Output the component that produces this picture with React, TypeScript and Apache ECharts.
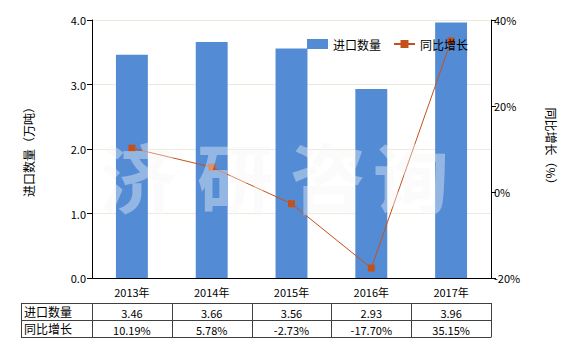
import React, { useEffect, useRef } from "react";
import * as echarts from "echarts";

const categories = ["2013年", "2014年", "2015年", "2016年", "2017年"];
const importQty = [3.46, 3.66, 3.56, 2.93, 3.96];
const yoyGrowth = [10.19, 5.78, -2.73, -17.7, 35.15];
const qtyLabels = ["3.46", "3.66", "3.56", "2.93", "3.96"];
const growthLabels = ["10.19%", "5.78%", "-2.73%", "-17.70%", "35.15%"];
const rowNames = ["进口数量", "同比增长"];
const watermarkChars = ["济", "研", "咨", "询"];

const FONT = "'Noto Sans CJK SC', 'Microsoft YaHei', sans-serif";
const GRID_LEFT = 92;
const GRID_RIGHT_X = 491;
const GRID_TOP = 20;
const GRID_BOTTOM_Y = 278;
const TABLE_LEFT = 21;
const TABLE_TOP = 303;
const ROW_H = 17;

export default function App() {
  const ref = useRef<HTMLDivElement>(null);
  useEffect(() => {
    const chart = echarts.init(ref.current!, null, { renderer: "svg" });
    const plotW = GRID_RIGHT_X - GRID_LEFT;
    const colW = plotW / categories.length;
    const border = "#404040";
    const graphics: any[] = [];
    const tableBottom = TABLE_TOP + ROW_H * rowNames.length;
    for (let r = 0; r <= rowNames.length; r++) {
      const y = TABLE_TOP + ROW_H * r + 0.5;
      graphics.push({ type: "line", shape: { x1: TABLE_LEFT, y1: y, x2: GRID_RIGHT_X, y2: y }, style: { stroke: border, lineWidth: 1 } });
    }
    const vxs = [TABLE_LEFT, GRID_LEFT];
    for (let i = 1; i <= categories.length; i++) vxs.push(GRID_LEFT + colW * i);
    vxs.forEach((x) => {
      graphics.push({ type: "line", shape: { x1: Math.round(x) + 0.5, y1: TABLE_TOP, x2: Math.round(x) + 0.5, y2: tableBottom + 0.5 }, style: { stroke: border, lineWidth: 1 } });
    });
    const rows = [qtyLabels, growthLabels];
    rowNames.forEach((name, r) => {
      const cy = TABLE_TOP + ROW_H * r + ROW_H / 2;
      graphics.push({ type: "text", x: TABLE_LEFT + 3, y: cy, style: { text: name, fill: "#000", font: `12px ${FONT}`, verticalAlign: "middle", align: "left" } });
      rows[r].forEach((t, i) => {
        graphics.push({ type: "text", x: GRID_LEFT + colW * (i + 0.5), y: cy + 1, style: { text: t, fill: "#000", font: `11px ${FONT}`, verticalAlign: "middle", align: "center" } });
      });
    });
    const wmCenters = [138, 235, 328, 411];
    watermarkChars.forEach((c, i) => {
      graphics.push({ type: "text", x: wmCenters[i], y: 175, z: 100, style: { text: c, fill: "rgba(246,246,246,0.4)", font: `bold 76px ${FONT}`, align: "center", verticalAlign: "middle" } });
    });

    chart.setOption({
      animation: false,
      textStyle: { fontFamily: FONT },
      grid: { left: GRID_LEFT, right: 580 - GRID_RIGHT_X, top: GRID_TOP, bottom: 350 - GRID_BOTTOM_Y, containLabel: false },
      legend: {
        left: 302,
        top: 33,
        itemWidth: 21,
        itemHeight: 10,
        itemGap: 12,
        textStyle: { fontSize: 12, color: "#000", fontFamily: FONT },
        data: [
          { name: "进口数量", icon: "rect" },
          { name: "同比增长" },
        ],
      },
      xAxis: {
        type: "category",
        data: categories,
        axisLine: { lineStyle: { color: "#000" } },
        axisTick: { alignWithLabel: true, lineStyle: { color: "#000" }, length: 4 },
        axisLabel: { color: "#000", fontSize: 11, margin: 8 },
      },
      yAxis: [
        {
          type: "value",
          min: 0,
          max: 4,
          interval: 1,
          name: "进口数量（万吨）",
          nameLocation: "middle",
          nameRotate: 90,
          nameGap: 58,
          nameTextStyle: { color: "#000", fontSize: 12 },
          axisLine: { show: true, lineStyle: { color: "#000" } },
          axisTick: { show: true, lineStyle: { color: "#000" }, length: 5 },
          axisLabel: { color: "#000", fontSize: 11, formatter: (v: number) => v.toFixed(1), margin: 6 },
          splitLine: { lineStyle: { color: "#ebebdc" } },
        },
        {
          type: "value",
          min: -20,
          max: 40,
          interval: 20,
          name: "同比增长（%）",
          nameLocation: "middle",
          nameRotate: -90,
          nameGap: 54,
          nameTextStyle: { color: "#000", fontSize: 12 },
          axisLine: { show: true, lineStyle: { color: "#000" } },
          axisTick: { show: true, lineStyle: { color: "#000" }, length: 5 },
          axisLabel: { color: "#000", fontSize: 11, formatter: "{value}%", margin: 3 },
          splitLine: { show: false },
        },
      ],
      series: [
        {
          name: "进口数量",
          type: "bar",
          data: importQty,
          barWidth: "40%",
          itemStyle: { color: "#538cd5" },
        },
        {
          name: "同比增长",
          type: "line",
          yAxisIndex: 1,
          data: yoyGrowth,
          symbol: "rect",
          symbolSize: 7,
          lineStyle: { color: "#c5511a", width: 1 },
          itemStyle: { color: "#c5511a" },
        },
      ],
      graphic: graphics,
    });
    return () => chart.dispose();
  }, []);
  return <div ref={ref} style={{ width: 580, height: 350, position: "absolute", left: 0, top: 0 }} />;
}
